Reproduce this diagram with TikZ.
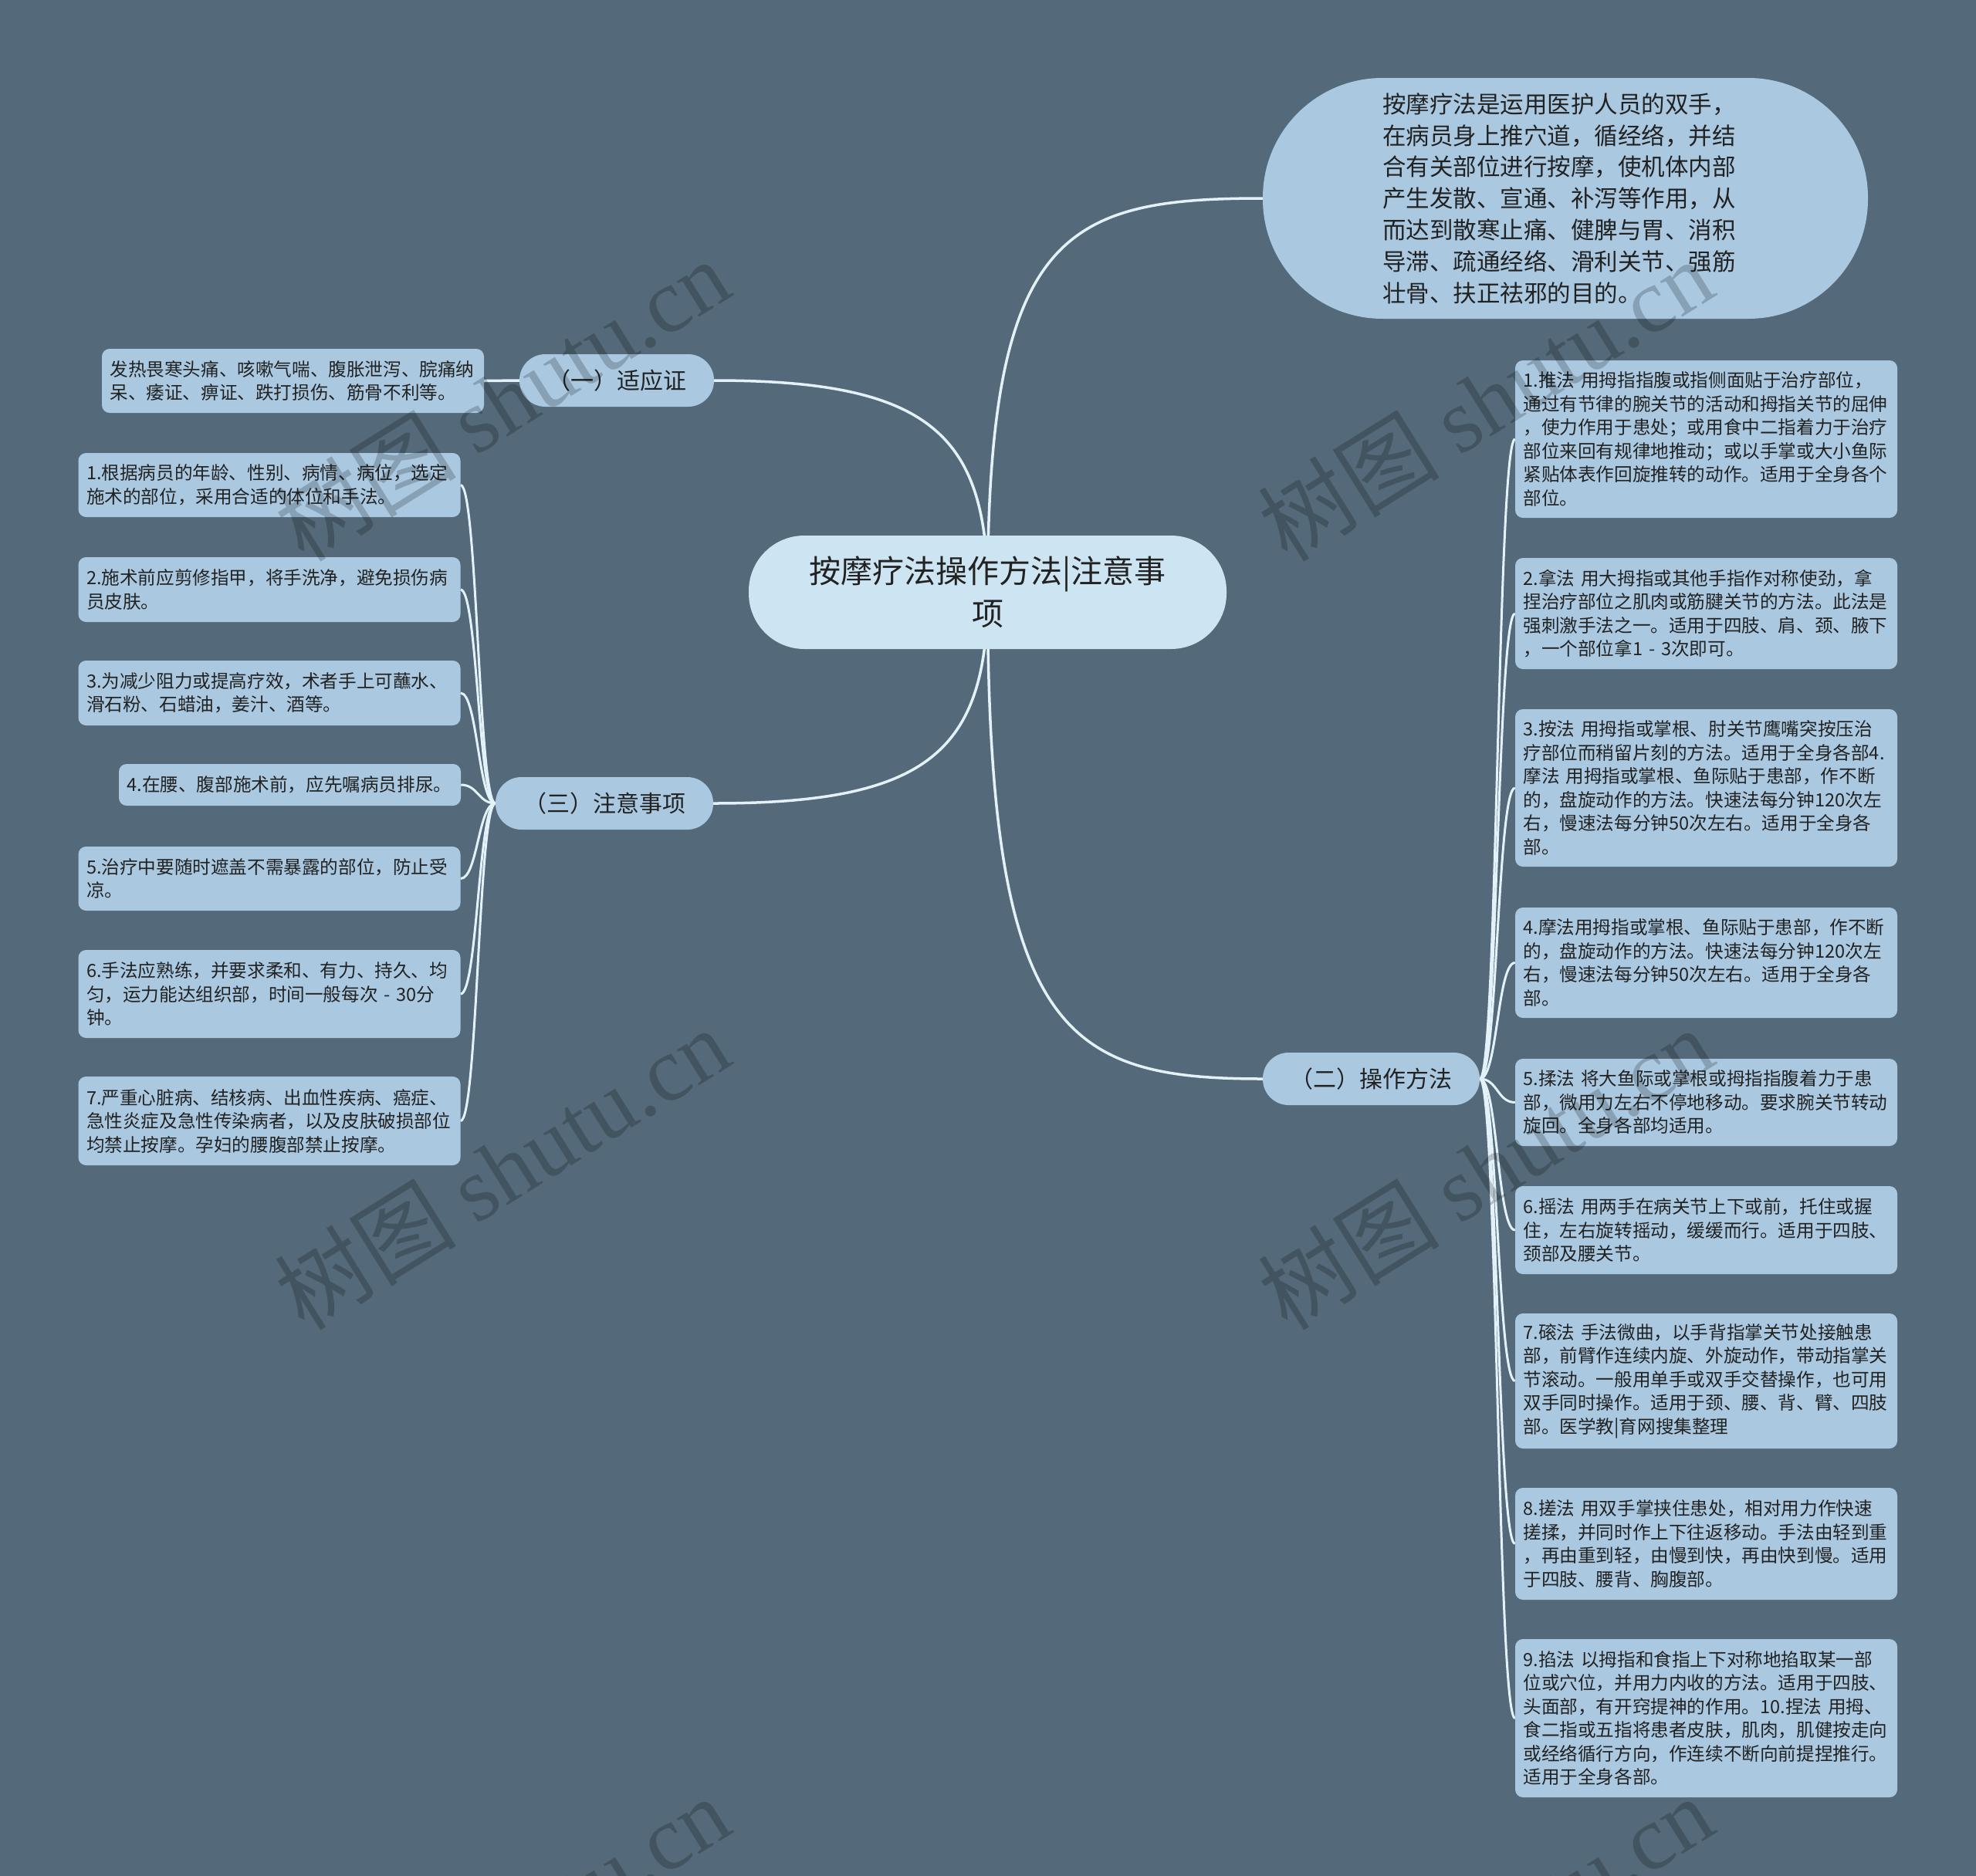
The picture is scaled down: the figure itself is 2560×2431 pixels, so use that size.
\documentclass[tikz,border=0pt]{standalone}
\usepackage{fontspec}
\setmainfont{Noto Sans CJK SC}
\newfontfamily\wmserif{Liberation Serif}
\definecolor{bgc}{HTML}{546A7A}
\definecolor{leafc}{HTML}{AAC9E1}
\definecolor{rootc}{HTML}{CDE5F2}
\definecolor{txtc}{HTML}{222222}
\definecolor{linec}{HTML}{E3F1F9}
\pgfdeclarelayer{bglayer}
\pgfdeclarelayer{linelayer}
\pgfsetlayers{bglayer,linelayer,main}
\begin{document}
\begin{tikzpicture}[x=1pt,y=-1pt,
  leafbox/.style={fill=leafc, rounded corners=10pt, inner xsep=10.5pt, inner ysep=0pt, align=left, text=txtc, text width=474pt, font=\fontsize{23.6pt}{30.5pt}\selectfont},
  branchbox/.style={fill=leafc, rounded corners=33.5pt, minimum height=68pt, inner sep=0pt, text=txtc, font=\fontsize{30pt}{36pt}\selectfont},
  rootbox/.style={fill=rootc, rounded corners=72pt, minimum width=619pt, minimum height=147pt, inner sep=0pt, align=center, text=txtc, font=\fontsize{41pt}{55pt}\selectfont},
  descbox/.style={fill=leafc, rounded corners=155pt, minimum width=784pt, minimum height=312pt, inner sep=0pt, align=left, text width=474pt, text=txtc, font=\fontsize{30.5pt}{40.8pt}\selectfont},
  mainline/.style={draw=linec, line width=3.5pt},
  subline/.style={draw=linec, line width=3pt},
  wmark/.style={text=black, text opacity=0.2, font=\fontsize{118pt}{120pt}\selectfont, rotate=32, inner sep=0pt}
]
\useasboundingbox (0,0) rectangle (2560,2431);
\begin{pgfonlayer}{bglayer}
\fill[bgc] (0,0) rectangle (2560,2431);
\end{pgfonlayer}

% root and description
\node[rootbox] (c) at (1279.5,767.5) {按摩疗法操作方法|注意事\\项};
\node[descbox] (d) at (2028,257) {按摩疗法是运用医护人员的双手，\\在病员身上推穴道，循经络，并结\\合有关部位进行按摩，使机体内部\\产生发散、宣通、补泻等作用，从\\而达到散寒止痛、健脾与胃、消积\\导滞、疏通经络、滑利关节、强筋\\壮骨、扶正祛邪的目的。};

% branches
\node[branchbox, minimum width=252pt] (b1) at (799,493) {（一）适应证};
\node[branchbox, minimum width=282pt] (b3) at (783,1041) {（三）注意事项};
\node[branchbox, minimum width=281pt] (b2) at (1776.5,1398) {（二）操作方法};

% (一) leaf
\node[leafbox, minimum height=83pt] (A) at (379.5,493.5) {发热畏寒头痛、咳嗽气喘、腹胀泄泻、脘痛纳\\呆、痿证、痹证、跌打损伤、筋骨不利等。};

% (三) leaves
\node[leafbox, minimum height=83pt] (L1) at (349,628.5) {1.根据病员的年龄、性别、病情、病位，选定\\施术的部位，采用合适的体位和手法。};
\node[leafbox, minimum height=84pt] (L2) at (349,764) {2.施术前应剪修指甲，将手洗净，避免损伤病\\员皮肤。};
\node[leafbox, minimum height=84pt] (L3) at (349,898) {3.为减少阻力或提高疗效，术者手上可蘸水、\\滑石粉、石蜡油，姜汁、酒等。};
\node[leafbox, minimum height=54pt, text width=422pt] (L4) at (375.5,1017) {4.在腰、腹部施术前，应先嘱病员排尿。};
\node[leafbox, minimum height=83pt] (L5) at (349,1138.5) {5.治疗中要随时遮盖不需暴露的部位，防止受\\凉。};
\node[leafbox, minimum height=114pt] (L6) at (349,1288) {6.手法应熟练，并要求柔和、有力、持久、均\\匀，运力能达组织部，时间一般每次~-~30分\\钟。};
\node[leafbox, minimum height=115pt] (L7) at (349,1452.5) {7.严重心脏病、结核病、出血性疾病、癌症、\\急性炎症及急性传染病者，以及皮肤破损部位\\均禁止按摩。孕妇的腰腹部禁止按摩。};

% (二) leaves
\node[leafbox, minimum height=204pt] (R1) at (2210.5,569) {1.推法~用拇指指腹或指侧面贴于治疗部位，\\通过有节律的腕关节的活动和拇指关节的屈伸\\，使力作用于患处；或用食中二指着力于治疗\\部位来回有规律地推动；或以手掌或大小鱼际\\紧贴体表作回旋推转的动作。适用于全身各个\\部位。};
\node[leafbox, minimum height=144pt] (R2) at (2210.5,795) {2.拿法~用大拇指或其他手指作对称使劲，拿\\捏治疗部位之肌肉或筋腱关节的方法。此法是\\强刺激手法之一。适用于四肢、肩、颈、腋下\\，一个部位拿1~-~3次即可。};
\node[leafbox, minimum height=204pt] (R3) at (2210.5,1021) {3.按法~用拇指或掌根、肘关节鹰嘴突按压治\\疗部位而稍留片刻的方法。适用于全身各部4.\\摩法~用拇指或掌根、鱼际贴于患部，作不断\\的，盘旋动作的方法。快速法每分钟120次左\\右，慢速法每分钟50次左右。适用于全身各\\部。};
\node[leafbox, minimum height=143pt] (R4) at (2210.5,1247.5) {4.摩法用拇指或掌根、鱼际贴于患部，作不断\\的，盘旋动作的方法。快速法每分钟120次左\\右，慢速法每分钟50次左右。适用于全身各\\部。};
\node[leafbox, minimum height=113pt] (R5) at (2210.5,1428.5) {5.揉法~将大鱼际或掌根或拇指指腹着力于患\\部，微用力左右不停地移动。要求腕关节转动\\旋回。全身各部均适用。};
\node[leafbox, minimum height=114pt] (R6) at (2210.5,1594) {6.摇法~用两手在病关节上下或前，托住或握\\住，左右旋转摇动，缓缓而行。适用于四肢、\\颈部及腰关节。};
\node[leafbox, minimum height=175pt] (R7) at (2210.5,1789.5) {7.磙法~手法微曲，以手背指掌关节处接触患\\部，前臂作连续内旋、外旋动作，带动指掌关\\节滚动。一般用单手或双手交替操作，也可用\\双手同时操作。适用于颈、腰、背、臂、四肢\\部。医学教|育网搜集整理};
\node[leafbox, minimum height=145pt] (R8) at (2210.5,2000.5) {8.搓法~用双手掌挟住患处，相对用力作快速\\搓揉，并同时作上下往返移动。手法由轻到重\\，再由重到轻，由慢到快，再由快到慢。适用\\于四肢、腰背、胸腹部。};
\node[leafbox, minimum height=205pt] (R9) at (2210.5,2226.5) {9.掐法~以拇指和食指上下对称地掐取某一部\\位或穴位，并用力内收的方法。适用于四肢、\\头面部，有开窍提神的作用。10.捏法~用拇、\\食二指或五指将患者皮肤，肌肉，肌健按走向\\或经络循行方向，作连续不断向前提捏推行。\\适用于全身各部。};

% connectors
\begin{pgfonlayer}{linelayer}
\draw[mainline] (c.center) .. controls +(0,-467) and +(-256,0) .. (d.west);
\draw[mainline] (c.center) .. controls +(0,573) and +(-256,0) .. (b2.west);
\draw[mainline] (c.center) .. controls +(0,-207) and +(276,0) .. (b1.east);
\draw[mainline] (c.center) .. controls +(0,208) and +(276,0) .. (b3.east);
\draw[mainline] (b1.west) -- (A.east);
\foreach \n in {L1,L2,L3,L4,L5,L6,L7}{
  \draw[subline] (b3.west) .. controls +(-22,0) and +(22,0) .. (\n.east);
}
\foreach \n in {R1,R2,R3,R4,R5,R6,R7,R8,R9}{
  \draw[subline] (b2.east) .. controls +(23,0) and +(-23,0) .. (\n.west);
}
\end{pgfonlayer}

% watermarks
\node[wmark] (w1) at (650,518) {树图 {\wmserif shutu.cn}};
\node[wmark] (w2) at (1924,518) {树图 {\wmserif shutu.cn}};
\node[wmark] (w3) at (650,1514) {树图 {\wmserif shutu.cn}};
\node[wmark] (w4) at (1924,1514) {树图 {\wmserif shutu.cn}};
\node[wmark] (w5) at (650,2510) {树图 {\wmserif shutu.cn}};
\node[wmark] (w6) at (1924,2510) {树图 {\wmserif shutu.cn}};
\end{tikzpicture}
\end{document}
